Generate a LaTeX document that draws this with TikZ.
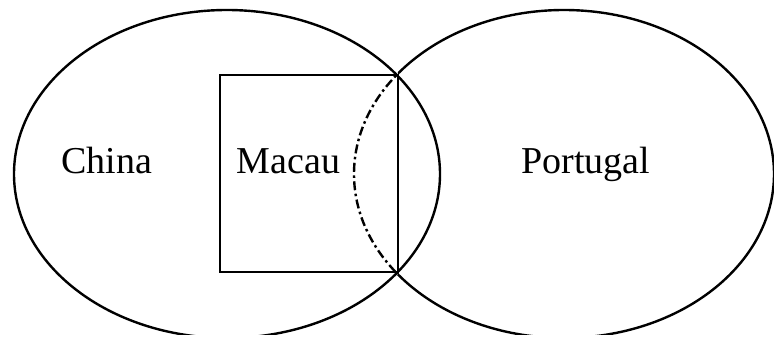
\documentclass[tikz,border=0pt]{standalone}
\usepackage{fontspec}
\setmainfont{Liberation Serif}
\begin{document}
\begin{tikzpicture}[x=1pt,y=-1pt,line width=2.4pt,
  lbl/.style={font=\fontsize{38}{42}\selectfont,inner sep=0pt,anchor=base},
  dashdot/.style={dash pattern=on 9pt off 3.5pt on 2.5pt off 3.5pt}]
\useasboundingbox (0,0) rectangle (774,340);
\fill[white] (0,0) rectangle (774,340);
\begin{scope}
\clip (0,0) rectangle (774,334);
% China
\draw (227,174) ellipse [x radius=213, y radius=164];
% Portugal, solid part
\begin{scope}
  \clip (398,-10) rectangle (800,350);
  \draw (564,174) ellipse [x radius=210, y radius=164];
\end{scope}
% Portugal, dash-dotted part inside China
\begin{scope}
  \clip (300,-10) rectangle (398,350);
  \draw[dashdot] (564,174) ellipse [x radius=210, y radius=164];
\end{scope}
\end{scope}
% Macau box
\draw (220,75) rectangle (398,272);
\node[lbl] (china) at (107,173) {China};
\node[lbl] (macau) at (288.5,173) {Macau};
\node[lbl] (portugal) at (586,173) {Portugal};
\end{tikzpicture}
\end{document}
